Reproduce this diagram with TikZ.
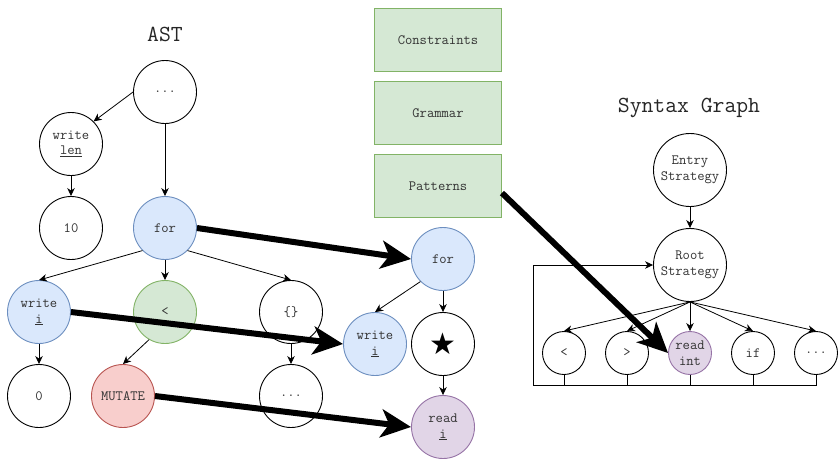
\documentclass[tikz,border=0pt]{standalone}
\usepackage{fontspec}
\newfontfamily\symfont{DejaVu Sans}
\usetikzlibrary{arrows.meta}

\definecolor{txt}{HTML}{333333}
\definecolor{blueF}{HTML}{DAE8FC}\definecolor{blueD}{HTML}{6C8EBF}
\definecolor{greenF}{HTML}{D5E8D4}\definecolor{greenD}{HTML}{82B366}
\definecolor{redF}{HTML}{F8CECC}\definecolor{redD}{HTML}{B85450}
\definecolor{purpF}{HTML}{E1D5E7}\definecolor{purpD}{HTML}{9673A6}

\begin{document}
\begin{tikzpicture}[x=1pt,y=-1pt,
  every node/.style={font=\ttfamily\fontsize{14.2}{15.5}\selectfont, text=txt},
  nd/.style={circle, draw, line width=0.9pt, minimum size=63pt, inner sep=0pt, align=center},
  big/.style={nd, minimum size=73pt},
  sm/.style={nd, minimum size=43pt},
  blue/.style={fill=blueF, draw=blueD},
  green/.style={fill=greenF, draw=greenD},
  red/.style={fill=redF, draw=redD},
  purp/.style={fill=purpF, draw=purpD},
  box/.style={rectangle, draw=greenD, fill=greenF, line width=0.9pt, minimum width=127pt, minimum height=63pt, inner sep=0pt},
  title/.style={font=\ttfamily\fontsize{23}{26}\selectfont, text=black!85},
  edge/.style={-{Stealth[length=8pt,width=7.5pt,inset=2.5pt]}, line width=0.8pt},
  link/.style={line width=0.8pt},
  fat/.style={-{Stealth[length=30pt,width=28pt,inset=8pt]}, line width=6pt},
]
\useasboundingbox (0,0) rectangle (838,458);

% ---------- AST ----------
\node[title] (astT) at (165,34) {AST};
\node[nd] (top) at (165,92) {...};
\node[nd] (wlen) at (71,144) {write\\\underline{len}};
\node[nd] (ten) at (71,228) {10};
\node[nd, blue] (forA) at (165,228) {for};
\node[nd, blue] (wiA) at (39,312) {write\\\underline{i}};
\node[nd, green] (lt) at (165,312) {<};
\node[nd] (brace) at (291,312) {\{\}};
\node[nd] (zero) at (39,396) {0};
\node[nd, red] (mut) at (123,396) {MUTATE};
\node[nd] (dots) at (291,396) {...};

\draw[edge] (top.west) -- (wlen.north east);
\draw[edge] (top.south) -- (forA.north);
\draw[edge] (wlen.south) -- (ten.north);
\draw[edge] (forA.south west) -- (wiA.north);
\draw[edge] (forA.south) -- (lt.north);
\draw[edge] (forA.south east) -- (brace.north);
\draw[edge] (wiA.south) -- (zero.north);
\draw[edge] (lt.240) -- (mut.north);
\draw[edge] (brace.south) -- (dots.north);

% ---------- pattern ----------
\node[nd, blue] (forB) at (443,259) {for};
\node[nd, blue] (wiB) at (375,344) {write\\\underline{i}};
\node[nd] (star) at (443,344) {\symfont\fontsize{30}{30}\selectfont\textcolor{black}{★}};
\node[nd, purp] (rdB) at (443,427) {read\\\underline{i}};

\draw[edge] (forB.south west) -- (wiB.north);
\draw[edge] (forB.south) -- (star.north);
\draw[edge] (star.south) -- (rdB.north);

% ---------- inputs ----------
\node[box] (cons) at (438,40) {Constraints};
\node[box] (gram) at (438,113) {Grammar};
\node[box] (pat) at (438,186) {Patterns};

% ---------- syntax graph ----------
\node[title] (sgT) at (689,108) {Syntax Graph};
\node[big] (entry) at (690,170) {Entry\\Strategy};
\node[big] (root) at (690,265) {Root\\Strategy};
\node[sm] (s1) at (564,353) {<};
\node[sm] (s2) at (627,353) {>};
\node[sm, purp] (s3) at (690,353) {read\\int};
\node[sm] (s4) at (753,353) {if};
\node[sm] (s5) at (816,353) {...};
\coordinate (loopL) at (533,385);

\draw[edge] (entry.south) -- (root.north);
\foreach \k in {1,...,5} {
  \draw[edge] (root.south) -- (s\k.north);
}
\foreach \k in {1,...,4} {
  \draw[link] (s\k.south) -- (s\k.south |- loopL);
}
\draw[edge] (s5.south) |- (loopL) |- (root.west);

% ---------- transformations ----------
\draw[fat] (forA.east) -- (forB.west);
\draw[fat] (wiA.east) -- (wiB.west);
\draw[fat] (mut.east) -- (rdB.west);
\draw[fat] ([yshift=-7pt]pat.east) -- (s3.west);
\end{tikzpicture}
\end{document}
